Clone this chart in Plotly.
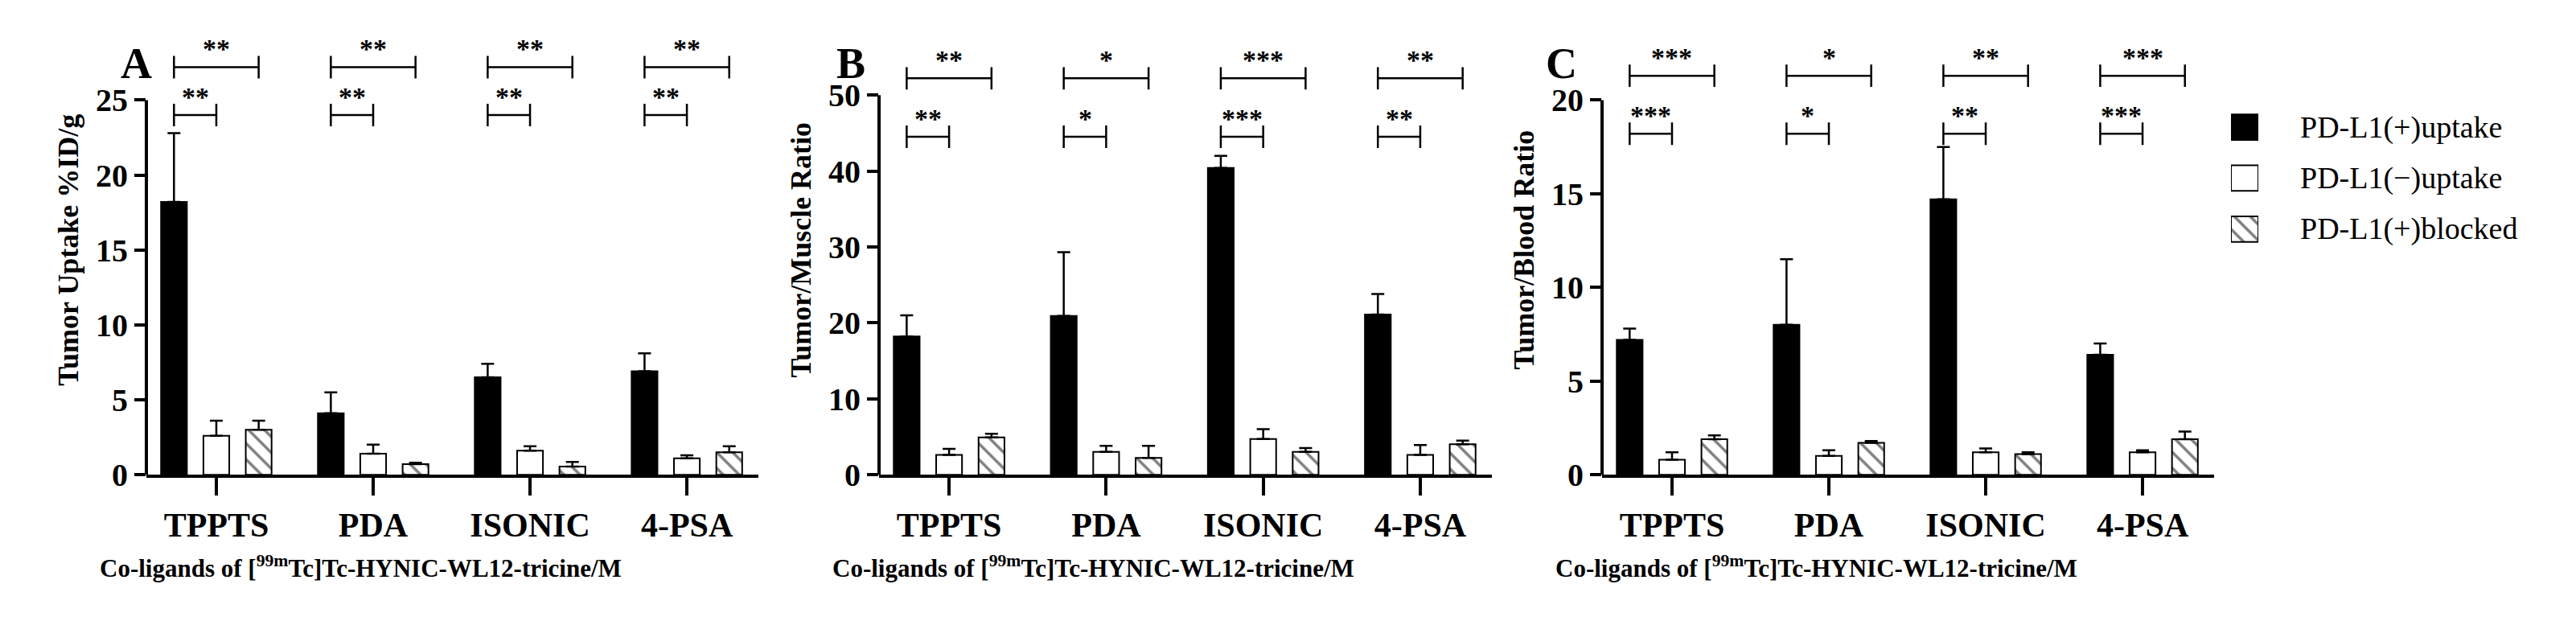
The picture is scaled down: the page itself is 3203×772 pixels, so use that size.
import plotly.graph_objects as go

categories = ["TPPTS", "PDA", "ISONIC", "4-PSA"]
series_names = ["PD-L1(+)uptake", "PD-L1(\u2212)uptake", "PD-L1(+)blocked"]

# Panel A: Tumor uptake %ID/g
a_pos = [18.2, 4.1, 6.5, 6.9]
a_pos_err = [4.6, 1.4, 0.9, 1.2]
a_neg = [2.6, 1.4, 1.6, 1.1]
a_neg_err = [1.0, 0.6, 0.3, 0.2]
a_blk = [3.0, 0.7, 0.55, 1.5]
a_blk_err = [0.6, 0.1, 0.3, 0.4]
a_sig_low = ["**", "**", "**", "**"]
a_sig_high = ["**", "**", "**", "**"]

# Panel B: Tumor/Muscle ratio
b_pos = [18.2, 20.9, 40.4, 21.1]
b_pos_err = [2.8, 8.4, 1.6, 2.7]
b_neg = [2.6, 3.0, 4.7, 2.6]
b_neg_err = [0.8, 0.8, 1.3, 1.3]
b_blk = [4.9, 2.2, 3.0, 4.0]
b_blk_err = [0.5, 1.6, 0.5, 0.5]
b_sig_low = ["**", "*", "***", "**"]
b_sig_high = ["**", "*", "***", "**"]

# Panel C: Tumor/Blood ratio
c_pos = [7.2, 8.0, 14.7, 6.4]
c_pos_err = [0.6, 3.5, 2.8, 0.6]
c_neg = [0.8, 1.0, 1.2, 1.2]
c_neg_err = [0.4, 0.3, 0.2, 0.1]
c_blk = [1.9, 1.7, 1.1, 1.9]
c_blk_err = [0.2, 0.1, 0.1, 0.4]
c_sig_low = ["***", "*", "**", "***"]
c_sig_high = ["***", "*", "**", "***"]

W, H = 3203, 772
FONT = "Liberation Serif"
panels = [
    dict(letter="A", ytitle="Tumor Uptake %ID/g", pos=a_pos, pe=a_pos_err, neg=a_neg, ne=a_neg_err,
         blk=a_blk, be=a_blk_err, low=a_sig_low, high=a_sig_high, ymax=25, dt=5, rmax=30,
         ylow=24.0, yhigh=27.2, px=(174, 935), lx=140),
    dict(letter="B", ytitle="Tumor/Muscle Ratio", pos=b_pos, pe=b_pos_err, neg=b_neg, ne=b_neg_err,
         blk=b_blk, be=b_blk_err, low=b_sig_low, high=b_sig_high, ymax=50, dt=10, rmax=59.2,
         ylow=44.5, yhigh=52.2, px=(1085, 1847), lx=1030),
    dict(letter="C", ytitle="Tumor/Blood Ratio", pos=c_pos, pe=c_pos_err, neg=c_neg, ne=c_neg_err,
         blk=c_blk, be=c_blk_err, low=c_sig_low, high=c_sig_high, ymax=20, dt=5, rmax=24,
         ylow=18.2, yhigh=21.3, px=(1984, 2745), lx=1934),
]

ydom = [(H - 600) / H, (H - 24) / H]
OFF = 0.27
fig = go.Figure()
layout = dict(width=W, height=H, margin=dict(l=0, r=0, t=0, b=0), showlegend=False,
              plot_bgcolor="white", paper_bgcolor="white", barmode="group",
              bargap=0.19, bargroupgap=0.39, shapes=[], annotations=[])

styles = [
    dict(color="black", line=dict(color="black", width=2)),
    dict(color="white", line=dict(color="black", width=2)),
    dict(color="white", line=dict(color="black", width=2),
         pattern=dict(shape="\\", fgcolor="black", bgcolor="white", size=14, solidity=0.25)),
]

for i, p in enumerate(panels):
    n = "" if i == 0 else str(i + 1)
    xa, ya = "x" + n, "y" + n
    idx = list(range(len(categories)))
    for s, (vals, errs) in enumerate([(p["pos"], p["pe"]), (p["neg"], p["ne"]), (p["blk"], p["be"])]):
        fig.add_trace(go.Bar(x=idx, y=vals, name=series_names[s], marker=styles[s],
                             xaxis=xa, yaxis=ya,
                             error_y=dict(type="data", symmetric=False, array=errs,
                                          arrayminus=[0] * len(errs), color="black",
                                          thickness=2.5, width=8)))
    cap = p["rmax"] * 0.025
    for k in idx:
        for (yv, x1, lab) in [(p["ylow"], k, p["low"][k]), (p["yhigh"], k + OFF, p["high"][k])]:
            x0 = k - OFF
            fig.add_trace(go.Scatter(x=[x0, x0, None, x0, x1, None, x1, x1],
                                     y=[yv - cap, yv + cap, None, yv, yv, None, yv - cap, yv + cap],
                                     mode="lines", line=dict(color="black", width=2.5),
                                     xaxis=xa, yaxis=ya, hoverinfo="skip"))
            layout["annotations"].append(dict(x=(x0 + x1) / 2, y=yv, xref=xa, yref=ya, text="<b>" + lab + "</b>",
                                              showarrow=False, yanchor="bottom", yshift=2,
                                              font=dict(family=FONT, size=34, color="black")))
    dom = [p["px"][0] / W, p["px"][1] / W]
    layout["xaxis" + n] = dict(domain=dom, anchor=ya, range=[-0.446, 3.456], tickvals=idx,
                               ticktext=categories, showline=True, linewidth=4, linecolor="black",
                               ticks="outside", ticklen=22, tickwidth=4, tickcolor="black",
                               showgrid=False, zeroline=False,
                               tickfont=dict(family=FONT, size=42, color="black", weight="bold"))
    layout["yaxis" + n] = dict(domain=ydom, anchor=xa, range=[0, p["rmax"]],
                               tickvals=list(range(0, p["ymax"] + 1, p["dt"])),
                               showline=False, ticks="outside", ticklen=14, tickwidth=4,
                               tickcolor="black", showgrid=False, zeroline=False,
                               tickfont=dict(family=FONT, size=40, color="black", weight="bold"),
                               title=dict(text="<b>" + p["ytitle"] + "</b>", standoff=10,
                                          font=dict(family=FONT, size=36, color="black")))
    layout["shapes"].append(dict(type="line", xref=xa + " domain", yref=ya, x0=0, x1=0, y0=0,
                                 y1=p["ymax"], line=dict(color="black", width=4)))
    layout["annotations"].append(dict(x=p["lx"] / W, y=1 - 40 / H, xref="paper", yref="paper",
                                      text="<b>" + p["letter"] + "</b>", showarrow=False,
                                      font=dict(family=FONT, size=54, color="black")))
    layout["annotations"].append(dict(x=(p["px"][0] - 60) / W, y=1 - 740 / H, xref="paper", yref="paper",
                                      xanchor="left", text="<b>Co-ligands of [<sup>99m</sup>Tc]Tc-HYNIC-WL12-tricine/M</b>",
                                      showarrow=False, font=dict(family=FONT, size=31, color="black")))

# manual legend: swatches as bars on a hidden axis
rows = list(range(len(series_names)))
for s in rows:
    fig.add_trace(go.Bar(x=[1], y=[s], orientation="h", width=0.5, marker=styles[s],
                         xaxis="x4", yaxis="y4", hoverinfo="skip"))
    layout["annotations"].append(dict(x=2850 / W, y=s, xref="paper", yref="y4", xanchor="left",
                                      text=series_names[s], showarrow=False,
                                      font=dict(family=FONT, size=38, color="black")))
layout["xaxis4"] = dict(domain=[2766 / W, 2800 / W], range=[0, 1], visible=False, anchor="y4")
layout["yaxis4"] = dict(domain=[1 - (285 + 33) / H, 1 - (155 - 33) / H], range=[2.5, -0.5],
                        visible=False, anchor="x4")
fig.update_layout(**layout)
fig.write_html("out.html")
